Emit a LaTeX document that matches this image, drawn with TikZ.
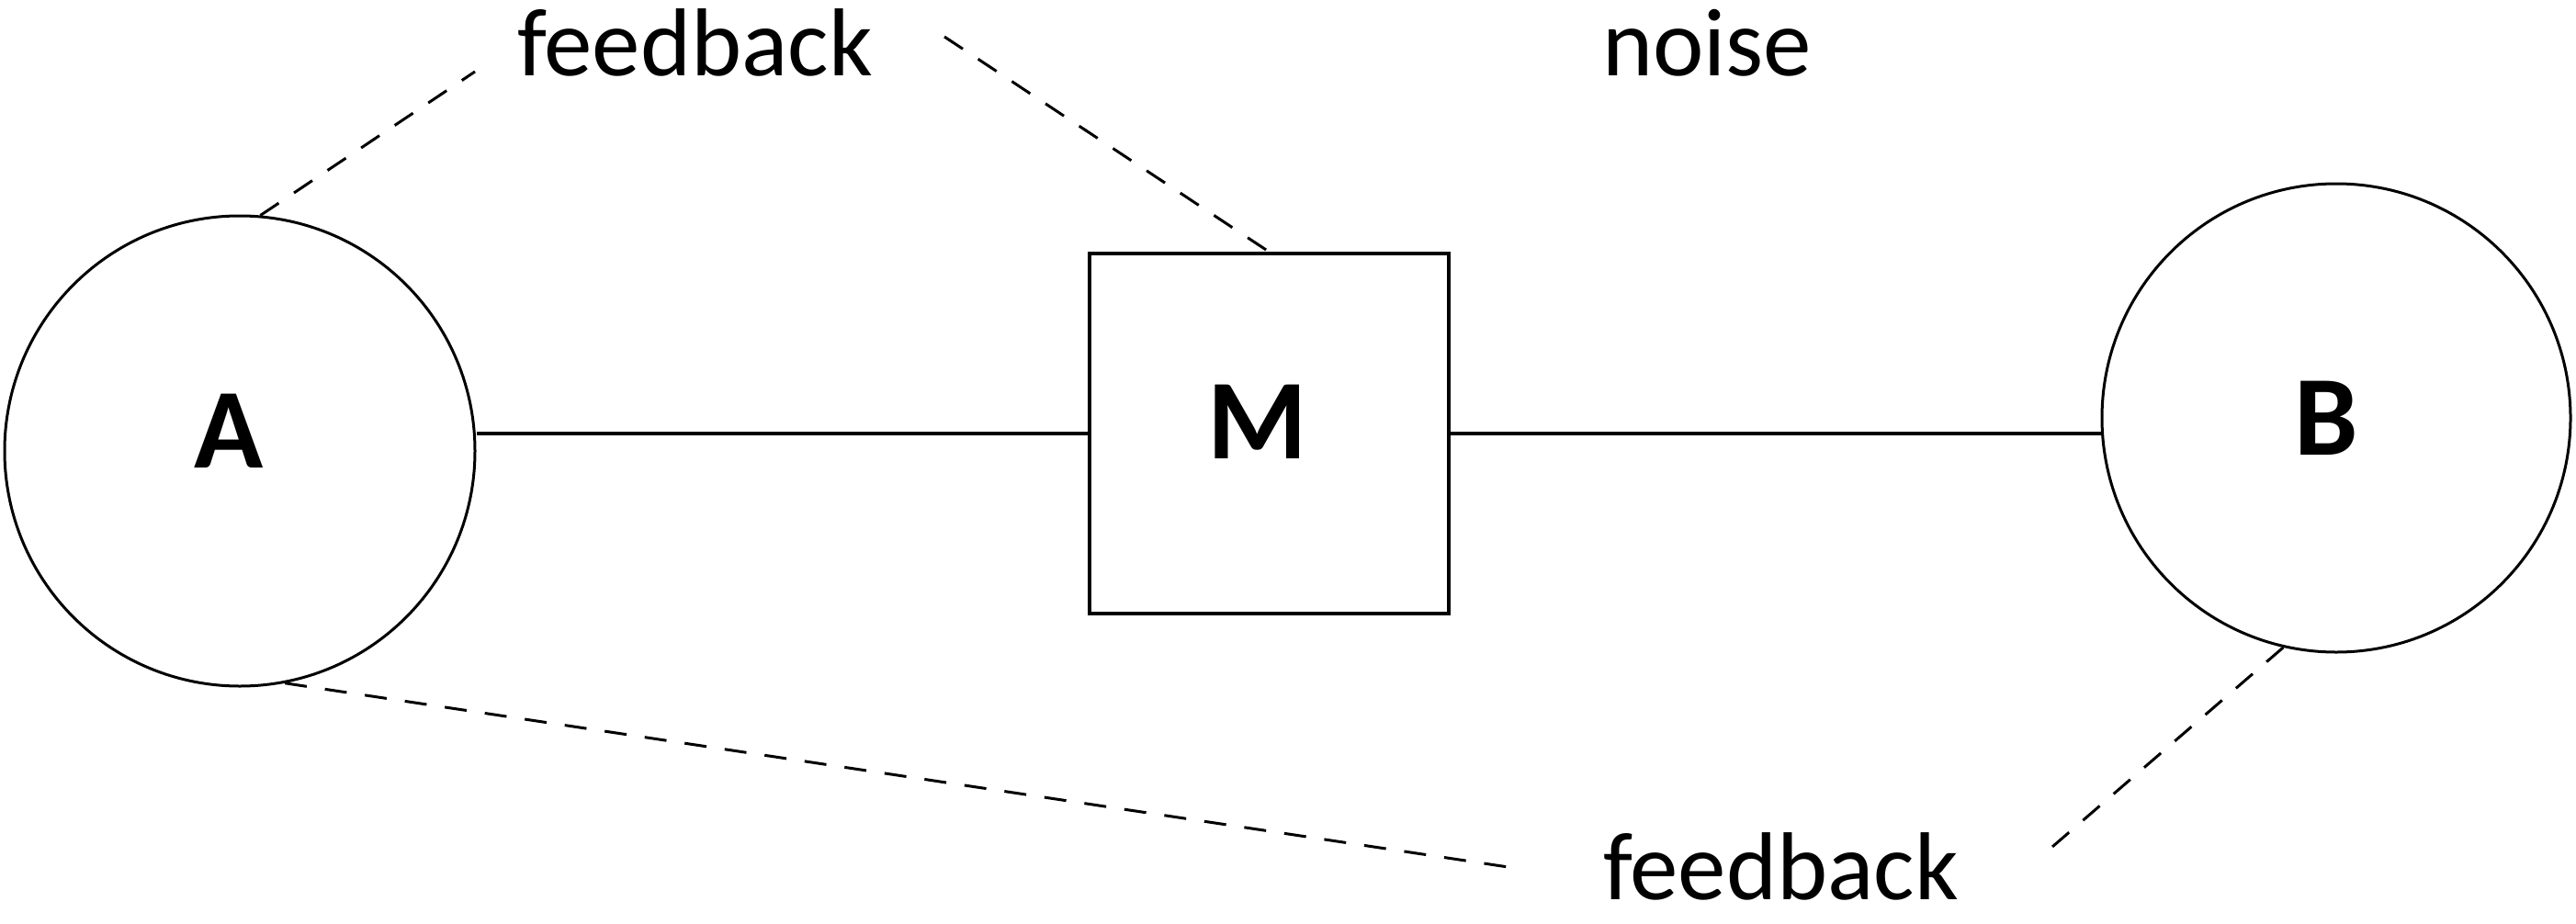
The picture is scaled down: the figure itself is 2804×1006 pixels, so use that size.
\documentclass[tikz,border=0pt]{standalone}
\usepackage{fontspec}
\setmainfont{Carlito}
\begin{document}
\begin{tikzpicture}[x=1pt,y=-1pt,
  ent/.style={draw, circle, line width=3pt, inner sep=0pt},
  box/.style={draw, rectangle, line width=3.5pt, inner sep=0pt},
  lab/.style={font=\fontsize{105}{126}\selectfont, anchor=base, inner sep=0pt, text depth=0pt},
  big/.style={font=\bfseries\fontsize{124}{148}\selectfont, anchor=base, inner sep=0pt},
  link/.style={line width=4pt},
  fb/.style={line width=3pt, dash pattern=on 24pt off 20pt}]
\fill[white] (0,0) rectangle (2804,1006);
\useasboundingbox (0,0) rectangle (2804,1006);
% shapes
\node[ent, minimum size=512pt] (A) at (261,491) {};
\node[ent, minimum size=510pt] (B) at (2543,455) {};
\node[box, minimum width=391pt, minimum height=392pt] (M) at (1381.5,472) {};
% letters
\node[big] (Alab) at (249,509) {A};
\node[big] (Mlab) at (1369,499) {M};
\node[big] (Blab) at (2532,495) {B};
% labels
\node[lab] (fbtop) at (756.5,83) {feedback};
\node[lab] (noise) at (1858,83) {noise};
\node[lab] (fbbot) at (1938.5,979) {feedback};
% free ends of dashed lines
\coordinate (c1) at (517,78);
\coordinate (c2) at (1028,40);
\coordinate (c3) at (1655,946);
\coordinate (c4) at (2220,934);
% solid connectors
\draw[link] (M.west) -- (M.west -| A.east);
\draw[link] (M.east) -- (M.east -| B.west);
% dashed feedback lines
\draw[fb] (A.85) -- (c1);
\draw[fb] (c2) -- (M.north);
\draw[fb] (A.-79) -- (c3);
\draw[fb] (B.-103) -- (c4);
\end{tikzpicture}
\end{document}
